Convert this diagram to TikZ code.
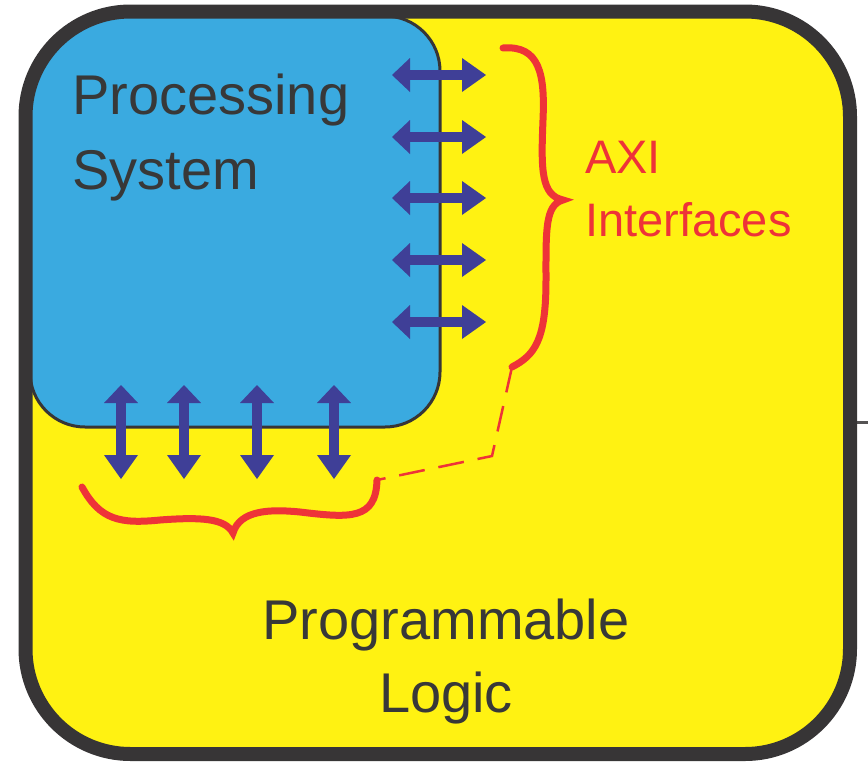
\documentclass[tikz,border=0pt]{standalone}
\usepackage{fontspec}
\setmainfont{Liberation Sans}
\usetikzlibrary{arrows.meta}

\definecolor{plyellow}{HTML}{FFF212}
\definecolor{psblue}{HTML}{3AAAE0}
\definecolor{axiblue}{HTML}{3F3F97}
\definecolor{axired}{HTML}{EE3338}
\definecolor{boxgray}{HTML}{373536}
\definecolor{txtgray}{HTML}{383838}

\begin{document}
\begin{tikzpicture}[x=1pt, y=1pt,
  axiarrow/.style={color=axiblue, line width=10pt,
    {Triangle[length=18pt,width=34pt,line width=0pt]}-{Triangle[length=24pt,width=34pt,line width=0pt]}},
  bracestroke/.style={draw=axired, line width=7pt, line cap=round},
  lbl/.style={inner sep=0pt, text=txtgray}]
\useasboundingbox (0,0) rectangle (868,-761);

% programmable logic and processing system
\node (PL) at (437.75, -382.75) [fill=plyellow, rounded corners=105pt, outer sep=0pt,
  minimum width=824.5pt, minimum height=742.5pt] {};
\begin{scope}
  \clip[rounded corners=105pt] (PL.north west) rectangle (PL.south east);
  \node (PS) at (235, -221.5) [fill=psblue, draw=boxgray, line width=3pt, rounded corners=55pt,
    outer sep=0pt, minimum width=410pt, minimum height=411pt] {};
\end{scope}

\coordinate (ext) at (868, -422);
\draw[draw=boxgray!85, line width=3pt] (PL.east |- ext) -- (ext);
\draw[draw=boxgray, line width=14pt, rounded corners=105pt] (PL.north west) rectangle (PL.south east);

% AXI ports
\foreach \y [count=\i] in {75, 137, 198, 260, 322} {
  \coordinate (hl\i) at (392, -\y);
  \coordinate (hr\i) at (486, -\y);
  \draw[axiarrow] (hl\i) -- (hr\i);
}
\foreach \x [count=\i] in {121, 184, 257, 334} {
  \coordinate (vt\i) at (\x, -385);
  \coordinate (vb\i) at (\x, -479);
  \draw[axiarrow] (vt\i) -- (vb\i);
}

% braces
\coordinate (rbtop) at (503, -48);
\coordinate (rbtip) at (563, -200);
\coordinate (rbbot) at (512, -367);
\coordinate (bbl)   at (82, -487);
\coordinate (bbtip) at (233, -533);
\coordinate (bbr)   at (377, -480);
\coordinate (bend)  at (492, -456);

\draw[bracestroke] (rbtop) .. controls (540, -45) and (545, -75) .. (543, -120)
  .. controls (541, -170) and (541, -195) .. (rbtip)
  .. controls (545, -205) and (546, -230) .. (546, -280)
  .. controls (546, -340) and (535, -355) .. (rbbot);
\draw[bracestroke] (bbl) .. controls (100, -520) and (120, -524) .. (160, -520)
  .. controls (200, -517) and (225, -518) .. (bbtip)
  .. controls (240, -510) and (270, -509) .. (300, -512)
  .. controls (350, -518) and (376, -520) .. (bbr);
\draw[draw=axired, line width=2.5pt, dash pattern=on 26pt off 14pt] (rbbot) -- (bend) -- (bbr);

% labels
\node[lbl, anchor=north west, align=left, font=\fontsize{56}{75}\selectfont] (pslabel) at (72, -74) {Processing\\System};
\node[lbl, anchor=north west, align=left, text=axired, font=\fontsize{47}{63}\selectfont] (axilabel) at (585, -141) {AXI\\Interfaces};
\node[lbl, anchor=north, align=center, font=\fontsize{56}{73}\selectfont] (pllabel) at (446, -599) {Programmable\\Logic};
\end{tikzpicture}
\end{document}
